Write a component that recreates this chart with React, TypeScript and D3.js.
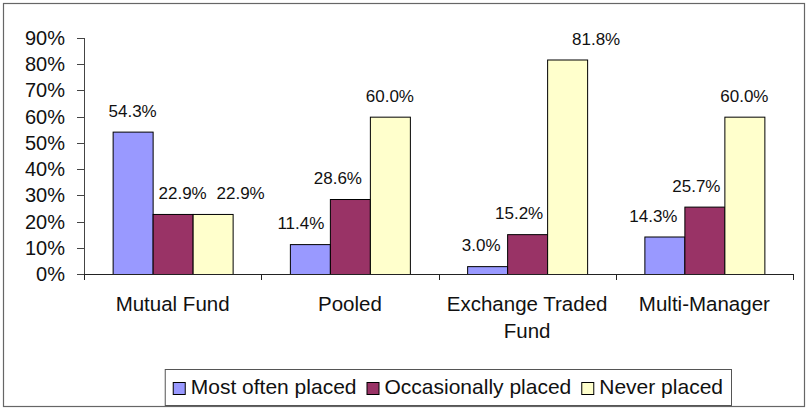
import React, { useEffect, useRef } from "react";
import * as d3 from "d3";

const categories = ["Mutual Fund", "Pooled", "Exchange Traded Fund", "Multi-Manager"];
const seriesNames = ["Most often placed", "Occasionally placed", "Never placed"];
const mostOften = [54.3, 11.4, 3.0, 14.3];
const occasionally = [22.9, 28.6, 15.2, 25.7];
const neverPlaced = [22.9, 60.0, 81.8, 60.0];
const yTicks = [0, 10, 20, 30, 40, 50, 60, 70, 80, 90];

const colors = ["#9999FF", "#993366", "#FFFFCC"];
// label nudges (px) used by the original to keep value labels from colliding
const labelNudge = [
  [0, 10, 28],
  [-9, -12, 0],
  [-6, -8, 29],
  [-11, -8, 0],
];

const W = 807;
const H = 408;
const FONT = "'Liberation Sans', Arial, sans-serif";

export default function App() {
  const ref = useRef<SVGSVGElement | null>(null);

  useEffect(() => {
    const svg = d3.select(ref.current);
    svg.selectAll("*").remove();

    const margin = { left: 84, right: 14, top: 38, bottom: 134 };
    const x0 = d3
      .scaleBand<string>()
      .domain(categories)
      .range([margin.left, W - margin.right])
      .paddingInner(0.323)
      .paddingOuter(0.1615);
    const x1 = d3
      .scaleBand<string>()
      .domain(seriesNames)
      .range([0, x0.bandwidth()]);
    const y = d3.scaleLinear().domain([0, 90]).range([H - margin.bottom, margin.top]);

    // outer frame
    svg
      .append("rect")
      .attr("x", 3.5)
      .attr("y", 3.5)
      .attr("width", W - 6)
      .attr("height", H - 5)
      .attr("fill", "#fff")
      .attr("stroke", "#666")
      .attr("stroke-width", 1.2);

    const values = [mostOften, occasionally, neverPlaced];
    const rows = categories.map((c, i) => ({
      cat: c,
      i,
      vals: seriesNames.map((s, j) => ({ s, j, v: values[j][i] })),
    }));

    // y axis
    const yAxis = svg.append("g");
    yAxis
      .append("line")
      .attr("x1", margin.left + 0.5)
      .attr("x2", margin.left + 0.5)
      .attr("y1", y(90))
      .attr("y2", y(0))
      .attr("stroke", "#444");
    yTicks.forEach((t) => {
      yAxis
        .append("line")
        .attr("x1", margin.left - 7)
        .attr("x2", margin.left)
        .attr("y1", Math.round(y(t)) + 0.5)
        .attr("y2", Math.round(y(t)) + 0.5)
        .attr("stroke", "#444");
      yAxis
        .append("text")
        .attr("x", margin.left - 19)
        .attr("y", y(t))
        .attr("dy", "0.35em")
        .attr("text-anchor", "end")
        .attr("font-family", FONT)
        .attr("font-size", 20)
        .attr("fill", "#111")
        .text(`${t}%`);
    });

    // bars
    const g = svg
      .selectAll("g.cat")
      .data(rows)
      .join("g")
      .attr("class", "cat")
      .attr("transform", (d) => `translate(${x0(d.cat)},0)`);

    g.selectAll("rect")
      .data((d) => d.vals)
      .join("rect")
      .attr("x", (d) => (x1(d.s) as number) + 0.5)
      .attr("y", (d) => y(d.v) + 0.5)
      .attr("width", x1.bandwidth())
      .attr("height", (d) => y(0) - y(d.v))
      .attr("fill", (d) => colors[d.j])
      .attr("stroke", "#000")
      .attr("stroke-width", 1);

    g.selectAll("text.val")
      .data((d) => d.vals.map((v) => ({ ...v, ci: d.i })))
      .join("text")
      .attr("class", "val")
      .attr("x", (d) => (x1(d.s) as number) + x1.bandwidth() / 2 + labelNudge[d.ci][d.j])
      .attr("y", (d) => y(d.v) - 15)
      .attr("text-anchor", "middle")
      .attr("font-family", FONT)
      .attr("font-size", 17)
      .attr("fill", "#111")
      .text((d) => `${d.v.toFixed(1)}%`);

    // x axis
    const xAxis = svg.append("g");
    xAxis
      .append("line")
      .attr("x1", margin.left)
      .attr("x2", W - margin.right)
      .attr("y1", y(0) + 0.5)
      .attr("y2", y(0) + 0.5)
      .attr("stroke", "#222");
    const step = x0.step();
    d3.range(categories.length + 1).forEach((k) => {
      const xx = Math.round(margin.left + k * step) + 0.5;
      xAxis
        .append("line")
        .attr("x1", xx)
        .attr("x2", xx)
        .attr("y1", y(0))
        .attr("y2", y(0) + 6)
        .attr("stroke", "#222");
    });

    // category labels with wrapping
    categories.forEach((c) => {
      const cx = (x0(c) as number) + x0.bandwidth() / 2;
      const t = xAxis
        .append("text")
        .attr("text-anchor", "middle")
        .attr("font-family", FONT)
        .attr("font-size", 20.5)
        .attr("fill", "#111");
      const words = c.split(" ");
      const lines: string[] = [];
      let cur = "";
      const probe = t.append("tspan");
      words.forEach((w) => {
        const test = cur ? cur + " " + w : w;
        probe.text(test);
        const len = (probe.node() as SVGTextContentElement).getComputedTextLength();
        if (len > step - 6 && cur) {
          lines.push(cur);
          cur = w;
        } else cur = test;
      });
      lines.push(cur);
      probe.remove();
      lines.forEach((ln, li) => {
        t.append("tspan")
          .attr("x", cx)
          .attr("y", y(0) + 37 + li * 27)
          .text(ln);
      });
    });

    // legend
    const lg = svg.append("g");
    const legendRight = 731;
    const legendTop = 369;
    const legendBottom = 405;
    const sq = 12;
    const gapText = 6;
    const gapItem = 10;
    const pad = 8;
    const LFS = 21;
    const measure = lg
      .append("text")
      .attr("font-family", FONT)
      .attr("font-size", LFS)
      .attr("visibility", "hidden");
    const widths = seriesNames.map((s) => {
      measure.text(s);
      return (measure.node() as SVGTextContentElement).getComputedTextLength();
    });
    measure.remove();
    const total =
      widths.reduce((a, b) => a + b, 0) + seriesNames.length * (sq + gapText) + (seriesNames.length - 1) * gapItem;
    const legendLeft = legendRight - pad * 2 - total;
    lg.append("rect")
      .attr("x", legendLeft + 0.5)
      .attr("y", legendTop + 0.5)
      .attr("width", legendRight - legendLeft)
      .attr("height", legendBottom - legendTop)
      .attr("fill", "#fff")
      .attr("stroke", "#555");
    let cx = legendLeft + pad;
    seriesNames.forEach((s, j) => {
      lg.append("rect")
        .attr("x", cx + 0.5)
        .attr("y", 382.5)
        .attr("width", sq)
        .attr("height", sq)
        .attr("fill", colors[j])
        .attr("stroke", "#000");
      lg.append("text")
        .attr("x", cx + sq + gapText)
        .attr("y", 394)
        .attr("font-family", FONT)
        .attr("font-size", LFS)
        .attr("fill", "#111")
        .text(s);
      cx += sq + gapText + widths[j] + gapItem;
    });
  }, []);

  return (
    <svg
      ref={ref}
      width={W}
      height={H}
      style={{ position: "fixed", left: 0, top: 0, background: "#fff" }}
    />
  );
}
